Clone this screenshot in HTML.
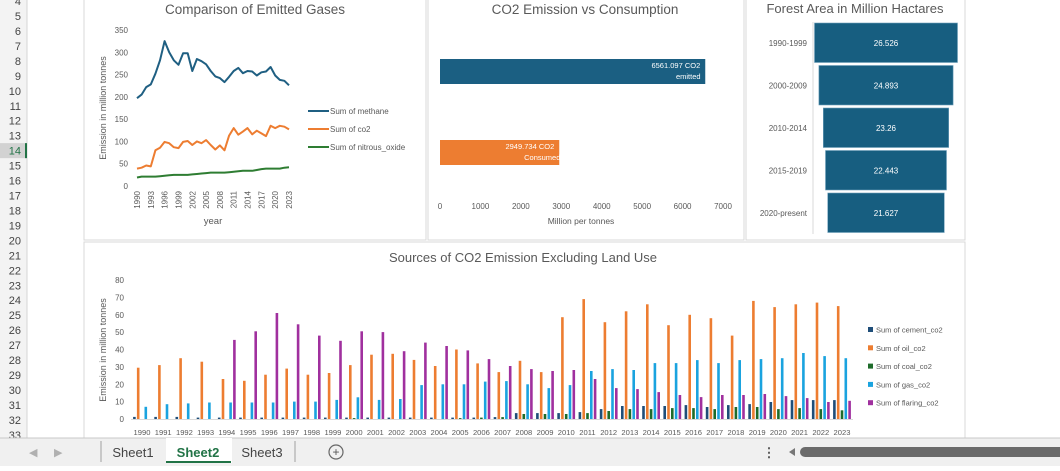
<!DOCTYPE html>
<html><head><meta charset="utf-8">
<style>
html,body{margin:0;padding:0;background:#fff;}
body{width:1060px;height:466px;overflow:hidden;font-family:"Liberation Sans",sans-serif;}
svg text{font-family:"Liberation Sans",sans-serif;}
</style></head>
<body>
<svg id="s" width="1060" height="466" viewBox="0 0 1060 466" xmlns="http://www.w3.org/2000/svg">
<rect x="0" y="0" width="1060" height="466" fill="#ffffff"/>
<g id="rowhdr">
<rect x="0" y="0" width="27" height="438" fill="#f3f3f3"/>
<line x1="27" y1="0" x2="27" y2="438" stroke="#d4d4d4"/>
</g>
<!-- panels -->
<rect x="84" y="-2" width="342" height="242" fill="#fff" stroke="#d9d9d9"/>
<rect x="428" y="-2" width="316" height="242" fill="#fff" stroke="#d9d9d9"/>
<rect x="746" y="-2" width="219" height="242" fill="#fff" stroke="#d9d9d9"/>
<rect x="84" y="242" width="881" height="200" fill="#fff" stroke="#d9d9d9"/>

<g id="c1"></g>
<g id="c2"></g>
<g id="c3"></g>
<g id="c4"></g>

<!-- tab bar -->
<g>
<rect x="0" y="438" width="1060" height="28" fill="#f0f0f0"/>
<line x1="0" y1="438" x2="1060" y2="438" stroke="#c8c8c8"/>
<text x="29" y="456" font-size="11" fill="#b0b0b0">◀</text>
<text x="54" y="456" font-size="11" fill="#b0b0b0">▶</text>
<line x1="101" y1="441" x2="101" y2="462" stroke="#a0a0a0"/>
<text x="133" y="457" font-size="13" fill="#444" text-anchor="middle">Sheet1</text>
<rect x="166" y="438" width="66" height="25" fill="#fff"/>
<line x1="166" y1="462" x2="231" y2="462" stroke="#217346" stroke-width="2"/>
<text x="198" y="457" font-size="13" font-weight="bold" fill="#217346" text-anchor="middle">Sheet2</text>
<text x="262" y="457" font-size="13" fill="#444" text-anchor="middle">Sheet3</text>
<line x1="295" y1="441" x2="295" y2="462" stroke="#a0a0a0"/>
<circle cx="336" cy="452" r="7" fill="none" stroke="#666" stroke-width="1.2"/>
<text x="336" y="456" font-size="12" fill="#555" text-anchor="middle">+</text>
<text x="769" y="457" font-size="13" fill="#555" text-anchor="middle" font-weight="bold">⋮</text>
<path d="M789 452 L795 448 L795 456 Z" fill="#777"/>
<rect x="800" y="447" width="270" height="10" rx="5" fill="#6b6b6b"/>
</g>

<script>
// ---- data ----
var years = [];
for (var yy = 1990; yy <= 2023; yy++) years.push(yy);
var methane = [197,205,222,228,252,282,325,300,282,272,298,298,258,285,280,273,258,246,242,233,245,258,265,253,258,257,248,255,257,267,248,238,236,226];
var co2 = [39,41,46,44,80,86,99,96,87,85,99,101,92,100,96,103,92,82,91,80,113,130,115,122,130,116,124,118,112,135,130,135,133,127];
var nitrous = [19,21,21,21,21,22,23,24,25,25,25,25,26,27,28,29,30,30,30,30,31,32,33,34,34,34,36,38,39,39,39,39,41,42];
var gasTicks = [0,50,100,150,200,250,300,350];

var co2Cats = ["emitted","Consumed"];
var co2Vals = [6561.097,2949.734];
var co2Ticks = [0,1000,2000,3000,4000,5000,6000,7000];

var forestCats = ["1990-1999","2000-2009","2010-2014","2015-2019","2020-present"];
var forestVals = [26.526,24.893,23.26,22.443,21.627];

var cement = [1.2,1.2,1.2,0.8,0.8,0.8,0.8,0.8,0.8,0.8,0.8,0.8,0.8,0.8,0.8,0.8,0.8,1.1,3.4,3.4,3.4,4,5.7,7.5,7.5,7.5,8,6.9,8,8.6,9.8,10.9,10.9,10.9];
var oil = [29.5,31,35,33,23,22,25.5,29,25.5,26.5,31,37,37.5,34,30.5,40,32,27,33.5,27,58.6,69,55.7,62,66,54,60,58,48,68,64.4,66,67,65];
var coal = [0,0,0,0,0,0,0,0,0,0,0.5,0,0,0,0,0.5,0.8,1.1,2.9,2.9,2.9,3.4,4.6,5.7,5.7,6.3,6.3,5.7,6.9,6.9,5.7,6.3,5.7,5];
var gas = [7,8.5,9,9.5,9.5,9.5,9.5,10,10,11,12.5,11,11.5,19.5,20,20,21.5,21.8,20,17.8,19.5,27.6,28.7,28.2,32.2,32.2,33.9,32.2,33.9,34.5,35,38,36.2,35];
var flaring = [0,0,0,0,45.5,50.5,61,54.5,48,45,50.5,50,39,44,42,39.5,34.5,30.5,28.7,27.6,28.2,23,17.8,17.2,15.5,13.8,12.6,13.8,13.8,14.4,13.2,12,9.8,10.5];
var srcTicks = [0,10,20,30,40,50,60,70,80];

var NS = "http://www.w3.org/2000/svg";
function mk(parent, tag, attrs, txt) {
  var e = document.createElementNS(NS, tag);
  for (var k in attrs) e.setAttribute(k, attrs[k]);
  if (txt !== undefined) e.textContent = txt;
  parent.appendChild(e);
  return e;
}

// row headers
var rh = document.getElementById("rowhdr");
for (var r = 4; r <= 33; r++) {
  var ry = 16 + (r - 5) * 14.96;
  if (r === 14) {
    var hl = mk(rh, "rect", {x:0, y:ry-7.5, width:27, height:15, fill:"#d2d2d2"});
    
    
    mk(rh, "line", {x1:26, y1:ry-7.5, x2:26, y2:ry+7.5, stroke:"#217346", "stroke-width":2});
  }
  var rt = mk(rh, "text", {x:21, y:ry+4, "font-size":11, fill: r===14?"#217346":"#444", "text-anchor":"end"}, String(r));
  
  
}

// ---- chart 1: gases ----
(function(){
  var g = document.getElementById("c1");
  var x0 = 137, x1 = 289, y0 = 186, y1 = 30;
  function X(i){ return x0 + (x1 - x0) * i / (years.length - 1); }
  function Y(v){ return y0 - (y0 - y1) * v / 350; }
  var t = mk(g, "text", {x:255, y:14, "font-size":13.5, fill:"#595959", "text-anchor":"middle"}, "Comparison of Emitted Gases");
  
  
  gasTicks.forEach(function(v){
    var tl = mk(g, "text", {x:128, y:Y(v)+3, "font-size":8, fill:"#595959", "text-anchor":"end"}, String(v));
    
    
  });
  years.forEach(function(yv, i){
    if (i % 3 === 0 || i === years.length - 1) {
      var xl = mk(g, "text", {x:0, y:0, "font-size":8, fill:"#595959", "text-anchor":"end", transform:"translate("+(X(i)+3)+",191) rotate(-90)"}, String(yv));
      
      
    }
  });
  var yt = mk(g, "text", {x:0, y:0, "font-size":9, fill:"#595959", "text-anchor":"middle", transform:"translate(106,108) rotate(-90)"}, "Emission in  million tonnes");
  
  
  var xt = mk(g, "text", {x:213, y:224, "font-size":9.5, fill:"#595959", "text-anchor":"middle"}, "year");
  
  
  var series = [[methane,"#1f5f82","Sum of methane","methane-line"],[co2,"#ed7d31","Sum of co2","co2-line"],[nitrous,"#2e7d32","Sum of nitrous_oxide","nitrous-oxide-line"]];
  series.forEach(function(s, k){
    var d = s[0].map(function(v,i){ return (i?"L":"M") + X(i).toFixed(1) + " " + Y(v).toFixed(1); }).join(" ");
    var p = mk(g, "path", {d:d, fill:"none", stroke:s[1], "stroke-width":2, "stroke-linejoin":"round"});
    
    
    var ly = 111 + k * 18;
    mk(g, "line", {x1:308, y1:ly, x2:329, y2:ly, stroke:s[1], "stroke-width":2});
    var lt = mk(g, "text", {x:330, y:ly+3, "font-size":8, fill:"#595959"}, s[2]);
    
    
  });
})();

// ---- chart 2: CO2 ----
(function(){
  var g = document.getElementById("c2");
  var x0 = 440, per = (723 - 440) / 7000;
  function X(v){ return x0 + v * per; }
  var t = mk(g, "text", {x:585, y:14, "font-size":13.5, fill:"#595959", "text-anchor":"middle"}, "CO2 Emission vs Consumption");
  
  
  var rows = [[59,84,"#1b5f82","6561.097 CO2"],[140,165,"#ed7d31","2949.734 CO2"]];
  co2Vals.forEach(function(v, i){
    var rr = rows[i];
    var b = mk(g, "rect", {x:x0, y:rr[0], width:X(v)-x0, height:rr[1]-rr[0], fill:rr[2]});
    
    
    var l1 = mk(g, "text", {x:X(v)-5, y:rr[0]+9, "font-size":7.5, fill:"#fff", "text-anchor":"end"}, v.toFixed(3) + " CO2");
    
    
    mk(g, "text", {x:X(v)-17, y:rr[0]+20, "font-size":7.5, fill:"#fff", "text-anchor":"middle"}, co2Cats[i]);
  });
  co2Ticks.forEach(function(v){
    var tl = mk(g, "text", {x:X(v), y:209, "font-size":8, fill:"#595959", "text-anchor":"middle"}, String(v));
    
    
  });
  var xt = mk(g, "text", {x:581, y:224, "font-size":8.5, fill:"#595959", "text-anchor":"middle"}, "Million per tonnes");
  
  
})();

// ---- chart 3: forest funnel ----
(function(){
  var g = document.getElementById("c3");
  var cx = 886, per = 143 / 26.526;
  var t = mk(g, "text", {x:855, y:13, "font-size":13, fill:"#595959", "text-anchor":"middle"}, "Forest Area in Million Hactares");
  
  
  mk(g, "line", {x1:813, y1:22, x2:813, y2:234, stroke:"#d9d9d9"});
  forestVals.forEach(function(v, i){
    var top = 23 + i * 42.5, h = 39.5, w = v * per;
    var b = mk(g, "rect", {x:cx - w/2, y:top, width:w, height:h, fill:"#175e80", stroke:"#6fa0bb", "stroke-width":0.6});
    
    
    var vl = mk(g, "text", {x:cx, y:top+h/2+3, "font-size":8, fill:"#fff", "text-anchor":"middle"}, String(v));
    
    
    var cl = mk(g, "text", {x:807, y:top+h/2+3, "font-size":8, fill:"#595959", "text-anchor":"end"}, forestCats[i]);
    
    
  });
})();

// ---- chart 4: sources ----
(function(){
  var g = document.getElementById("c4");
  var x0 = 142, x1 = 842, y0 = 419, y1 = 280;
  function X(i){ return x0 + (x1 - x0) * i / (years.length - 1); }
  function Y(v){ return y0 - (y0 - y1) * v / 80; }
  var t = mk(g, "text", {x:523, y:262, "font-size":13, fill:"#595959", "text-anchor":"middle"}, "Sources of CO2 Emission Excluding Land Use");
  
  
  srcTicks.forEach(function(v){
    var tl = mk(g, "text", {x:124, y:Y(v)+3, "font-size":8, fill:"#595959", "text-anchor":"end"}, String(v));
    
    
  });
  var yt = mk(g, "text", {x:0, y:0, "font-size":9, fill:"#595959", "text-anchor":"middle", transform:"translate(106,350) rotate(-90)"}, "Emission in  million tonnes");
  
  
  mk(g, "line", {x1:131, y1:y0+0.5, x2:853, y2:y0+0.5, stroke:"#d9d9d9"});
  var series = [[cement,"#1f4e79","Sum of cement_co2","cement"],[oil,"#ed7d31","Sum of oil_co2","oil"],[coal,"#1e6b2a","Sum of coal_co2","coal"],[gas,"#1aa3df","Sum of gas_co2","gas"],[flaring,"#a0309e","Sum of flaring_co2","flaring"]];
  series.forEach(function(s, k){
    s[0].forEach(function(v, i){
      if (v <= 0) return;
      var bx = X(i) + (k - 2) * 3.8 - 1.3;
      var b = mk(g, "rect", {x:bx.toFixed(1), y:Y(v).toFixed(1), width:2.6, height:(y0 - Y(v)).toFixed(1), fill:s[1]});
      
      
    });
    var ly = 330 + k * 18.3;
    mk(g, "rect", {x:868, y:ly-3, width:5, height:5, fill:s[1]});
    var lt = mk(g, "text", {x:876, y:ly+2.5, "font-size":7.5, fill:"#595959"}, s[2]);
    
    
  });
  years.forEach(function(yv, i){
    var xl = mk(g, "text", {x:X(i), y:435, "font-size":7.6, fill:"#595959", "text-anchor":"middle"}, String(yv));
    
    
  });
})();
</script>
</svg>
</body></html>
